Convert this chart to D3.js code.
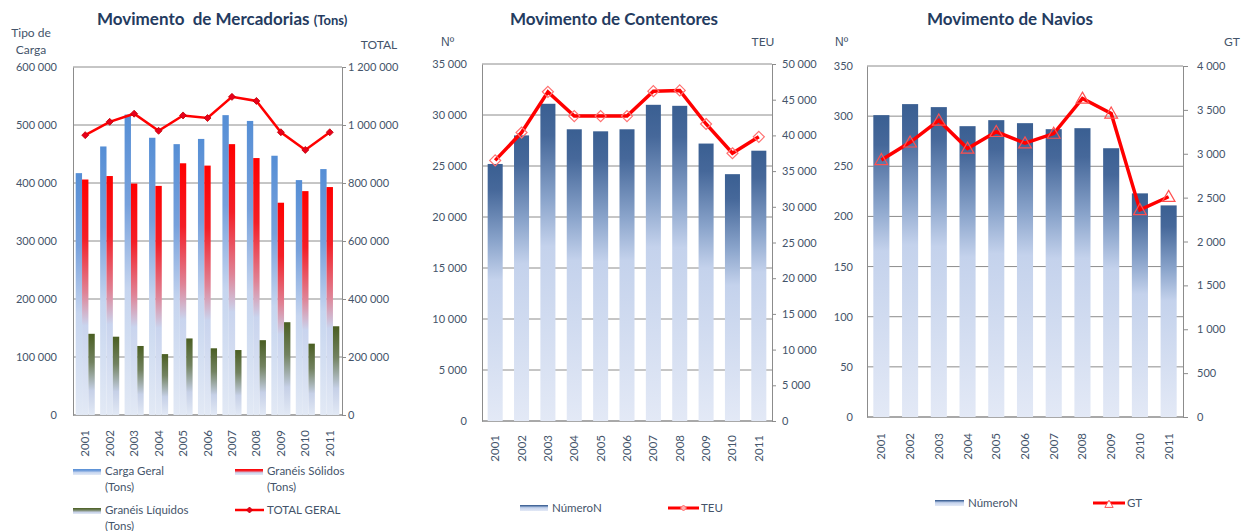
<!DOCTYPE html>
<html>
<head>
<meta charset="utf-8">
<script src="https://cdn.jsdelivr.net/npm/d3@7"></script>
<style>
  body { margin: 0; background: #fff; }
  svg { display: block; font-family: Lato, "Open Sans", sans-serif; }
</style>
</head>
<body>
<svg id="chart" width="1242" height="531"></svg>
<script>
// data
const years = ['2001', '2002', '2003', '2004', '2005', '2006', '2007', '2008', '2009', '2010', '2011'];

const cargaGeral = [417000, 463000, 518000, 478000, 467000, 476000, 517000, 507000, 447000, 405000, 424000];
const graneisSolidos = [406000, 412000, 399000, 395000, 434000, 430000, 467000, 443000, 366000, 386000, 393000];
const graneisLiquidos = [140000, 135000, 119000, 105000, 132000, 115000, 112000, 129000, 160000, 123000, 153000];
const totalGeral = [965000, 1011000, 1039000, 980000, 1033000, 1024000, 1097000, 1083000, 975000, 914000, 975000];

const contentoresNum = [25200, 28000, 31100, 28600, 28400, 28600, 31000, 30900, 27200, 24200, 26500];
const contentoresTeu = [36500, 40400, 46100, 42700, 42700, 42700, 46200, 46300, 41600, 37500, 39800];

const naviosNum = [301, 312, 309, 290, 296, 293, 287, 288, 268, 223, 211];
const naviosGt = [2930, 3130, 3380, 3060, 3250, 3120, 3230, 3630, 3460, 2360, 2510];

// tick values
const mercLeftTicks = [0, 100000, 200000, 300000, 400000, 500000, 600000];
const mercRightTicks = [0, 200000, 400000, 600000, 800000, 1000000, 1200000];
const contLeftTicks = [0, 5000, 10000, 15000, 20000, 25000, 30000, 35000];
const contRightTicks = [0, 5000, 10000, 15000, 20000, 25000, 30000, 35000, 40000, 45000, 50000];
const navLeftTicks = [0, 50, 100, 150, 200, 250, 300, 350];
const navRightTicks = [0, 500, 1000, 1500, 2000, 2500, 3000, 3500, 4000];

const textColor = '#44546a';
const titleColor = '#243b60';
const gridColor = '#8c8c8c';
const fmt = v => d3.format(',')(v).replace(/,/g, ' ');

const svg = d3.select('#chart');
const defs = svg.append('defs');

// vertical gradients, one per bar style (bounding box units so each bar fades on its own)
function gradient(id, stops) {
  const g = defs.append('linearGradient').attr('id', id)
    .attr('x1', 0).attr('y1', 0).attr('x2', 0).attr('y2', 1);
  stops.forEach(s => g.append('stop').attr('offset', s[0]).attr('stop-color', s[1]));
}
gradient('gBlue', [[0, '#558ed5'], [0.3, '#77a1dc'], [0.58, '#c6d5ef'], [1, '#e2e9f5']]);
gradient('gRed', [[0, '#ff0000'], [0.25, '#f41e26'], [0.48, '#df8396'], [0.62, '#c9d4ee'], [1, '#e2e9f5']]);
gradient('gGreen', [[0, '#4a5e22'], [0.35, '#728260'], [0.7, '#c6d0e7'], [1, '#e2e9f5']]);
gradient('gNavy', [[0, '#3a5f92'], [0.1, '#46689a'], [0.3, '#8aa4cb'], [0.45, '#c4d2ec'], [1, '#e3e9f6']]);

function frame(g, x0, x1, yLeft, yRight, leftTicks, rightTicks, leftPad, rightTick, rightPad) {
  // gridlines
  g.append('g').selectAll('line').data(leftTicks).join('line')
    .attr('x1', x0).attr('x2', x1)
    .attr('y1', d => yLeft(d)).attr('y2', d => yLeft(d))
    .attr('stroke', gridColor).attr('stroke-width', 1);

  const left = g.append('g').attr('transform', `translate(${x0},0)`)
    .call(d3.axisLeft(yLeft).tickValues(leftTicks).tickSize(0).tickPadding(leftPad).tickFormat(fmt));
  const right = g.append('g').attr('transform', `translate(${x1},0)`)
    .call(d3.axisRight(yRight).tickValues(rightTicks).tickSize(rightTick).tickPadding(rightPad).tickFormat(fmt));
  [left, right].forEach(a => {
    a.select('.domain').attr('stroke', gridColor);
    a.selectAll('.tick line').attr('stroke', gridColor);
    a.selectAll('text').attr('fill', textColor).style('font-size', '11px').style('font-family', 'Lato, sans-serif');
  });
  // bottom axis line
  g.append('line').attr('x1', x0).attr('x2', x1)
    .attr('y1', yLeft(0)).attr('y2', yLeft(0)).attr('stroke', gridColor);
}

function yearLabels(g, x, yTop) {
  g.append('g').selectAll('text').data(years).join('text')
    .attr('transform', d => `translate(${x(d) + x.bandwidth() / 2},${yTop}) rotate(-90)`)
    .attr('text-anchor', 'end').attr('dy', '0.35em')
    .attr('fill', textColor).style('font-size', '11.5px')
    .text(d => d);
}

function label(g, x, y, txt, opts = {}) {
  const t = g.append('text').attr('x', x).attr('y', y)
    .attr('text-anchor', opts.anchor || 'start')
    .attr('fill', opts.color || textColor)
    .style('font-size', (opts.size || 12) + 'px')
    .style('font-weight', opts.bold ? 'bold' : 'normal')
    .text(txt);
  if (opts.family) t.style('font-family', opts.family);
  return t;
}

function diamond(g, cx, cy, r, fill, stroke, sw) {
  g.append('path')
    .attr('d', `M${cx},${cy - r}L${cx + r},${cy}L${cx},${cy + r}L${cx - r},${cy}Z`)
    .attr('fill', fill).attr('stroke', stroke).attr('stroke-width', sw);
}

// ---------- Movimento de Mercadorias ----------
{
  const g = svg.append('g');
  const x0 = 73, x1 = 342, yTop = 67, yBot = 415;
  const x = d3.scaleBand().domain(years).range([x0, x1]).paddingInner(0.22).paddingOuter(0.11);
  const yL = d3.scaleLinear().domain([0, 600000]).range([yBot, yTop]);
  const yR = d3.scaleLinear().domain([0, 1200000]).range([yBot, yTop]);
  frame(g, x0, x1, yL, yR, mercLeftTicks, mercRightTicks, 16, 4, 2);

  const series = [
    { name: 'Carga Geral', values: cargaGeral, fill: 'url(#gBlue)' },
    { name: 'Granéis Sólidos', values: graneisSolidos, fill: 'url(#gRed)' },
    { name: 'Granéis Líquidos', values: graneisLiquidos, fill: 'url(#gGreen)' }
  ];
  const xs = d3.scaleBand().domain(d3.range(series.length)).range([0, x.bandwidth()]);
  series.forEach((s, si) => {
    g.append('g').selectAll('rect').data(years).join('rect')
      .attr('x', d => x(d) + xs(si))
      .attr('width', xs.bandwidth())
      .attr('y', (d, i) => yL(s.values[i]))
      .attr('height', (d, i) => yBot - yL(s.values[i]))
      .attr('fill', s.fill);
  });

  const cx = d => x(d) + x.bandwidth() / 2;
  g.append('path').datum(years)
    .attr('d', d3.line().x(cx).y((d, i) => yR(totalGeral[i])))
    .attr('fill', 'none').attr('stroke', '#ff0000').attr('stroke-width', 2.5);
  years.forEach((d, i) => diamond(g, cx(d), yR(totalGeral[i]), 3.5, '#e8001c', '#c00000', 0.8));

  yearLabels(g, x, 430);

  const t = g.append('text').attr('x', 97).attr('y', 25).attr('fill', titleColor)
    .style('font-weight', 'bold').style('white-space', 'pre');
  t.append('tspan').style('font-size', '17px').text('Movimento  de Mercadorias ');
  t.append('tspan').style('font-size', '13px').text('(Tons)');
  label(g, 31, 37, 'Tipo de', { anchor: 'middle' });
  label(g, 31, 54, 'Carga', { anchor: 'middle' });
  label(g, 379, 49, 'TOTAL', { anchor: 'middle' });

  // legend
  const lg = [
    { x: 73, y: 471, fill: 'url(#gBlue)', lines: ['Carga Geral', '(Tons)'] },
    { x: 235, y: 471, fill: 'url(#gRed)', lines: ['Granéis Sólidos', '(Tons)'] },
    { x: 73, y: 510, fill: 'url(#gGreen)', lines: ['Granéis Líquidos', '(Tons)'] }
  ];
  lg.forEach(l => {
    g.append('rect').attr('x', l.x).attr('y', l.y - 2).attr('width', 28).attr('height', 6).attr('fill', l.fill);
    l.lines.forEach((t, k) => label(g, l.x + 32, l.y + 4 + k * 16, t, { size: 11.5 }));
  });
  g.append('line').attr('x1', 235).attr('x2', 264).attr('y1', 510).attr('y2', 510)
    .attr('stroke', '#ff0000').attr('stroke-width', 2.5);
  diamond(g, 249.5, 510, 3, '#e8001c', '#c00000', 0.8);
  label(g, 267, 514, 'TOTAL GERAL', { size: 11.5 });
}

// ---------- Movimento de Contentores ----------
{
  const g = svg.append('g');
  const x0 = 482, x1 = 772, yTop = 64, yBot = 421;
  const x = d3.scaleBand().domain(years).range([x0, x1]).paddingInner(0.43).paddingOuter(0.215);
  const yL = d3.scaleLinear().domain([0, 35000]).range([yBot, yTop]);
  const yR = d3.scaleLinear().domain([0, 50000]).range([yBot, yTop]);
  frame(g, x0, x1, yL, yR, contLeftTicks, contRightTicks, 15, 4, 6);

  g.append('g').selectAll('rect').data(years).join('rect')
    .attr('x', d => x(d)).attr('width', x.bandwidth())
    .attr('y', (d, i) => yL(contentoresNum[i]))
    .attr('height', (d, i) => yBot - yL(contentoresNum[i]))
    .attr('fill', 'url(#gNavy)');

  const cx = d => x(d) + x.bandwidth() / 2;
  g.append('path').datum(years)
    .attr('d', d3.line().x(cx).y((d, i) => yR(contentoresTeu[i])))
    .attr('fill', 'none').attr('stroke', '#ff0000').attr('stroke-width', 3.5);
  years.forEach((d, i) => diamond(g, cx(d), yR(contentoresTeu[i]), 5.5, 'none', '#ff7070', 1.2));

  yearLabels(g, x, 435);

  label(g, 614, 25, 'Movimento de Contentores', { anchor: 'middle', size: 17, bold: true, color: titleColor });
  label(g, 441, 46, 'Nº', { family: '"Liberation Sans", sans-serif' });
  label(g, 763, 46, 'TEU', { anchor: 'middle' });

  g.append('rect').attr('x', 520).attr('y', 505).attr('width', 28).attr('height', 6).attr('fill', 'url(#gNavy)');
  label(g, 552, 512, 'NúmeroN', { size: 11.5 });
  g.append('line').attr('x1', 668).attr('x2', 699).attr('y1', 508).attr('y2', 508)
    .attr('stroke', '#ff0000').attr('stroke-width', 3);
  diamond(g, 683.5, 508, 3, '#ffb0b0', '#ff7070', 1);
  label(g, 701, 512, 'TEU', { size: 11.5 });
}

// ---------- Movimento de Navios ----------
{
  const g = svg.append('g');
  const x0 = 867, x1 = 1183, yTop = 66, yBot = 417;
  const x = d3.scaleBand().domain(years).range([x0, x1]).paddingInner(0.44).paddingOuter(0.22);
  const yL = d3.scaleLinear().domain([0, 350]).range([yBot, yTop]);
  const yR = d3.scaleLinear().domain([0, 4000]).range([yBot, yTop]);
  frame(g, x0, x1, yL, yR, navLeftTicks, navRightTicks, 14, 5, 9);

  g.append('g').selectAll('rect').data(years).join('rect')
    .attr('x', d => x(d)).attr('width', x.bandwidth())
    .attr('y', (d, i) => yL(naviosNum[i]))
    .attr('height', (d, i) => yBot - yL(naviosNum[i]))
    .attr('fill', 'url(#gNavy)');

  const cx = d => x(d) + x.bandwidth() / 2;
  g.append('path').datum(years)
    .attr('d', d3.line().x(cx).y((d, i) => yR(naviosGt[i])))
    .attr('fill', 'none').attr('stroke', '#ff0000').attr('stroke-width', 3.5);
  const tri = d3.symbol().type(d3.symbolTriangle).size(70);
  g.append('g').selectAll('path').data(years).join('path')
    .attr('transform', (d, i) => `translate(${cx(d)},${yR(naviosGt[i]) + 1})`)
    .attr('d', tri).attr('fill', 'none').attr('stroke', '#ff5050').attr('stroke-width', 1.2);

  yearLabels(g, x, 433);

  label(g, 1010, 25, 'Movimento de Navios', { anchor: 'middle', size: 17, bold: true, color: titleColor });
  label(g, 835, 46, 'Nº', { family: '"Liberation Sans", sans-serif' });
  label(g, 1232, 46, 'GT', { anchor: 'middle' });

  g.append('rect').attr('x', 935).attr('y', 500).attr('width', 29).attr('height', 6).attr('fill', 'url(#gNavy)');
  label(g, 968, 507, 'NúmeroN', { size: 11.5 });
  g.append('line').attr('x1', 1093).attr('x2', 1125).attr('y1', 503).attr('y2', 503)
    .attr('stroke', '#ff0000').attr('stroke-width', 3);
  g.append('path').attr('transform', 'translate(1109,505)')
    .attr('d', d3.symbol().type(d3.symbolTriangle).size(30))
    .attr('fill', '#fff').attr('stroke', '#ff5050').attr('stroke-width', 1);
  label(g, 1127, 507, 'GT', { size: 11.5 });
}
</script>
</body>
</html>
